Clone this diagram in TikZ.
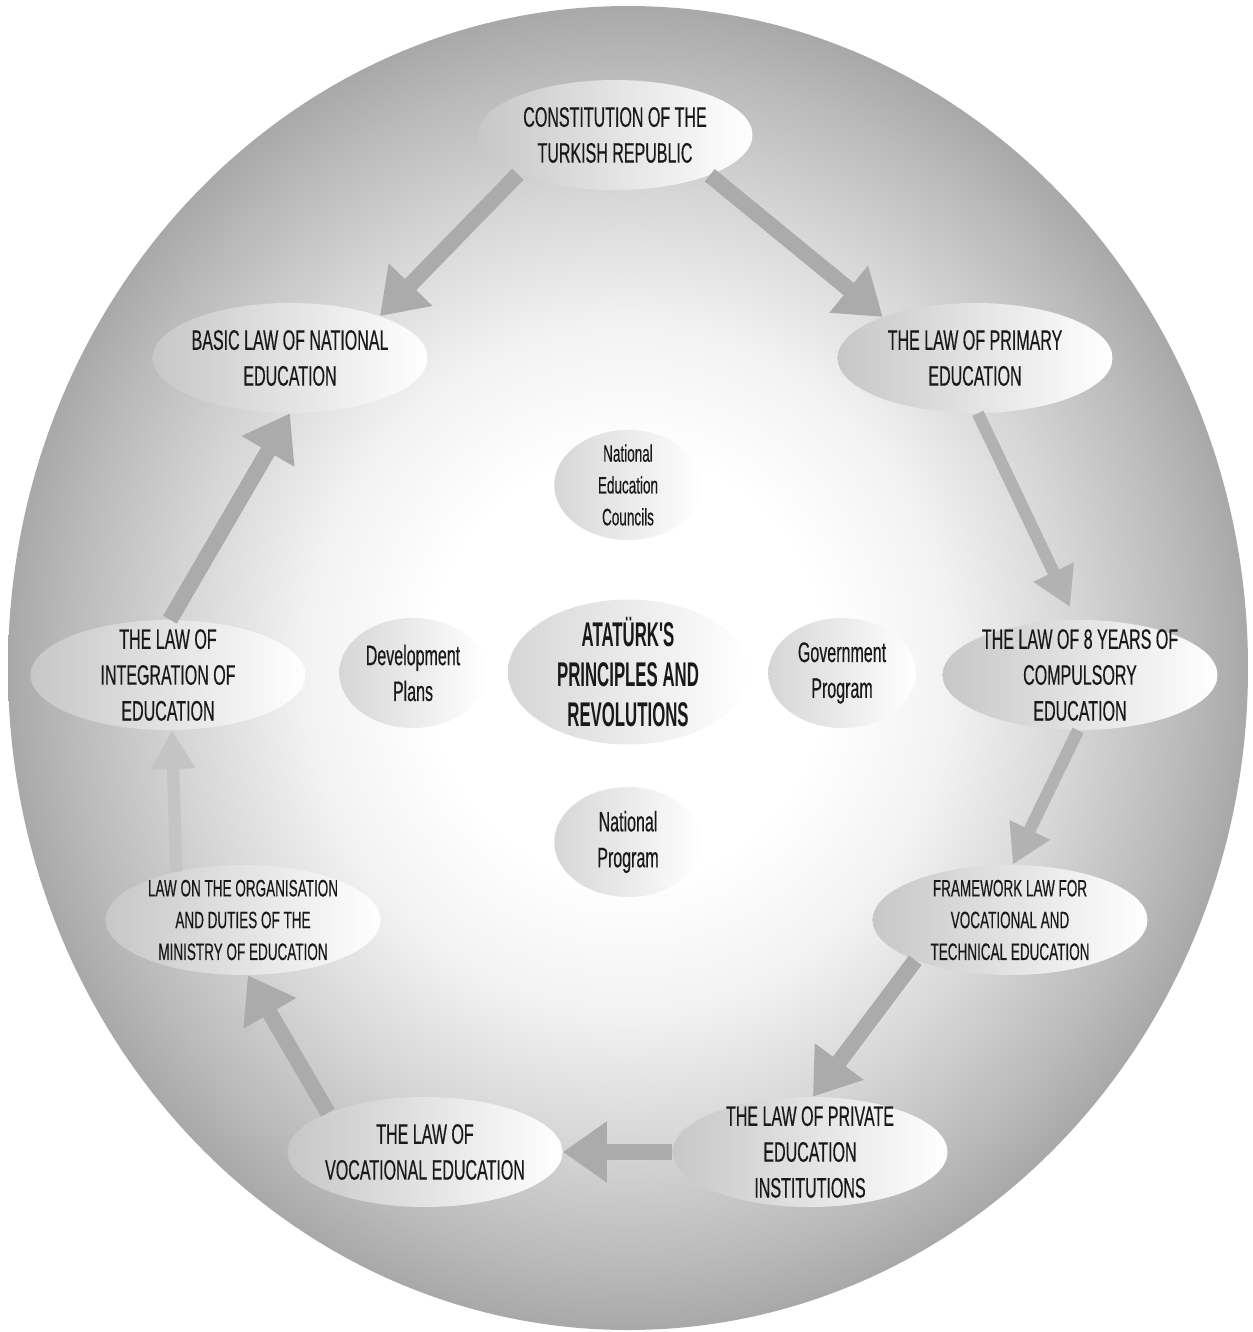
\documentclass[tikz,border=0pt]{standalone}
\usepackage{fontspec}
\setmainfont{Liberation Sans}[FakeStretch=0.57, FakeBold=0.4]
\newfontfamily\narrowbold{Liberation Sans}[FakeStretch=0.49]
\usepackage{tikz}
\usetikzlibrary{positioning}
\usetikzlibrary{shapes.geometric}
\usetikzlibrary{arrows.meta}

\pgfdeclareradialshading{ringshade}{\pgfpoint{0bp}{0bp}}{color(0bp)=(white); color(8bp)=(white); color(13bp)=(black!5); color(18bp)=(black!16); color(22.5bp)=(black!27); color(25bp)=(black!34); color(50bp)=(black!34)}

\tikzset{
  law/.style={ellipse, inner sep=-2.5cm, minimum width=5.5cm, minimum height=2.2cm,
    align=center, left color=black!22, right color=white, text=black!90,
    font=\fontsize{16}{20.4}\selectfont},
  lawsmall/.style={law, font=\fontsize{13.5}{18.1}\selectfont},
  pillar/.style={law, minimum width=2.95cm, left color=black!16},
  core/.style={law, minimum width=4.8cm, minimum height=2.9cm, left color=black!16,
    font=\narrowbold\bfseries\fontsize{19.5}{22.7}\selectfont},
  flow/.style={line width=9pt, draw=black!33, -{Triangle[width=33pt,length=25pt]}},
  thinflow/.style={line width=7pt, draw=black!30, -{Triangle[width=24pt,length=22pt]}}
}

\begin{document}
\begin{tikzpicture}[x=0.02cm, y=-0.02cm]
\useasboundingbox (0,0) rectangle (1252,1332);
\shade[shading=ringshade] (628,668) ellipse (620 and 662);

% the laws round the ring
\node[law] (const) at (615,135) {CONSTITUTION OF THE\\TURKISH REPUBLIC};
\node[law] (basic) at (290,358) {BASIC LAW OF NATIONAL\\EDUCATION};
\node[law] (primary) at (975,358) {THE LAW OF PRIMARY\\EDUCATION};
\node[law] (years) at (1080,675) {THE LAW OF 8 YEARS OF\\COMPULSORY\\EDUCATION};
\node[lawsmall] (frame) at (1010,920) {FRAMEWORK LAW FOR\\VOCATIONAL AND\\TECHNICAL EDUCATION};
\node[law] (private) at (810,1152) {THE LAW OF PRIVATE\\EDUCATION\\INSTITUTIONS};
\node[law] (vocational) at (425,1152) {THE LAW OF\\VOCATIONAL EDUCATION};
\node[lawsmall] (organisation) at (243,920) {LAW ON THE ORGANISATION\\AND DUTIES OF THE\\MINISTRY OF EDUCATION};
\node[law] (integration) at (168,675) {THE LAW OF\\INTEGRATION OF\\EDUCATION};

% the centre
\node[core] (ataturk) at (628,672) {ATAT\"URK'S\\PRINCIPLES AND\\REVOLUTIONS};
\node[pillar, font=\fontsize{13.5}{18.1}\selectfont] (councils) at (628,485) {National\\Education\\Councils};
\node[pillar] (plans) at (413,673) {Development\\Plans};
\node[pillar] (government) at (842,673) {Government\\Program};
\node[pillar] (program) at (628,842) {National\\Program};

\draw[flow] (const.202) -- (basic.25);
\draw[flow] (const.337) -- (primary.156);
\draw[thinflow, shorten >=8pt] (primary.273) -- (years.94);
\draw[thinflow] (years.268) -- (frame.87);
\draw[flow] (frame.203) -- (private.87);
\draw[flow] (private) -- (vocational);
\draw[flow] (vocational.158) -- (organisation.275);
\draw[thinflow, draw=black!23] (organisation.144) -- (integration.274);
\draw[flow] (integration.88) -- (basic.270);
\end{tikzpicture}
\end{document}
